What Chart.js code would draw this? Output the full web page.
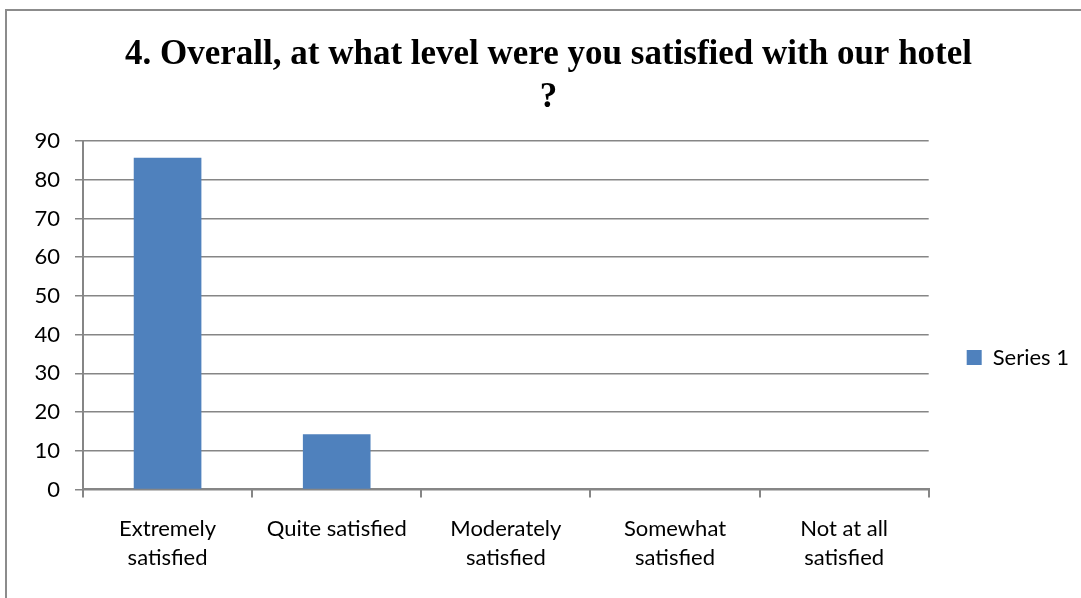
<!DOCTYPE html>
<html>
<head>
<meta charset="utf-8">
<script src="https://cdn.jsdelivr.net/npm/chart.js@4.4.1/dist/chart.umd.min.js"></script>
<style>
  html, body { margin: 0; padding: 0; background: #fff; overflow: hidden; }
  #frame {
    position: absolute; left: 5px; top: 9px;
    width: 1100px; height: 620px;
    border: 2px solid #8c8c8c;
  }
  #wrap { position: absolute; left: 0; top: 0; width: 1081px; height: 598px; }
</style>
</head>
<body>
<div id="frame"></div>
<div id="wrap"><canvas id="satChart" width="1081" height="598"></canvas></div>
<script>
/* ================= DATA ================= */
const categories = [
    ['Extremely', 'satisfied'],
    'Quite satisfied',
    ['Moderately', 'satisfied'],
    ['Somewhat', 'satisfied'],
    ['Not at all', 'satisfied']
];
const seriesName = 'Series 1';
const seriesValues = [85.71, 14.29, 0, 0, 0];
const yMax = 90;
const yStep = 10;
const titleLines = ['4. Overall, at what level were you satisfied with our hotel', '?'];

/* ================= CHART ================= */
const labelFont = { family: 'Lato', size: 22 };
const axisGray = '#868686';

const ctx = document.getElementById('satChart').getContext('2d');

const satChart = new Chart(ctx, {
    type: 'bar',
    data: {
        labels: categories,
        datasets: [{
            label: seriesName,
            data: seriesValues,
            backgroundColor: '#4f81bd',
            borderWidth: 0,
            barPercentage: 0.4,
            categoryPercentage: 1.0
        }]
    },
    options: {
        responsive: false,
        animation: false,
        layout: {
            padding: { top: 33, right: 2, bottom: 8, left: 18 }
        },
        plugins: {
            title: {
                display: true,
                text: titleLines,
                color: '#000',
                font: { family: 'Liberation Serif', size: 35, weight: 'bold', lineHeight: 1.23 },
                padding: { top: 0, bottom: 22 }
            },
            legend: {
                position: 'right',
                // blank title only pushes the legend entry a bit lower
                title: {
                    display: true,
                    text: ' ',
                    font: { size: 1, lineHeight: 1 },
                    padding: { top: 91, bottom: 0 }
                },
                labels: {
                    boxWidth: 15,
                    boxHeight: 15,
                    padding: 38,
                    color: '#000',
                    font: labelFont
                }
            },
            tooltip: { enabled: false }
        },
        scales: {
            x: {
                grid: {
                    offset: true,
                    drawOnChartArea: false,
                    drawTicks: true,
                    tickLength: 8,
                    color: axisGray,
                    lineWidth: 2
                },
                border: { color: axisGray, width: 2 },
                ticks: {
                    color: '#000',
                    font: { family: 'Lato', size: 22, lineHeight: 1.33 },
                    padding: 17,
                    maxRotation: 0,
                    autoSkip: false
                }
            },
            y: {
                min: 0,
                max: yMax,
                afterFit: scale => { scale.width = 65; },
                grid: {
                    drawTicks: true,
                    tickLength: 8,
                    color: axisGray,
                    lineWidth: 1.5
                },
                border: { color: axisGray, width: 2 },
                ticks: {
                    stepSize: yStep,
                    color: '#000',
                    font: labelFont,
                    padding: 15
                }
            }
        }
    }
});
</script>
</body>
</html>
